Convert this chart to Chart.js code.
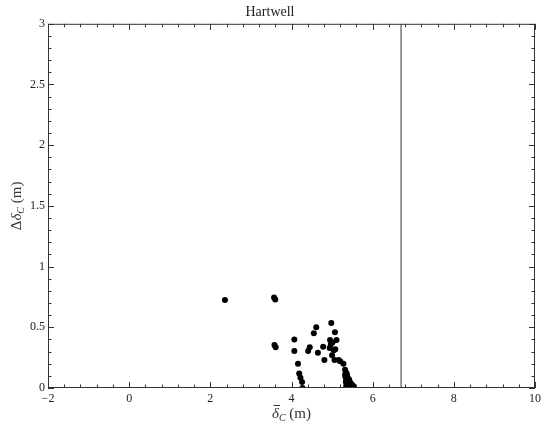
<!DOCTYPE html>
<html>
<head>
<meta charset="utf-8">
<script src="https://cdn.jsdelivr.net/npm/chart.js@4"></script>
<style>
html,body{margin:0;padding:0;background:#fff;}
#wrap{width:545px;height:425px;}
</style>
</head>
<body>
<div id="wrap"><canvas id="c" width="545" height="425"></canvas></div>
<script>
// ---- data ----
const chartTitle = "Hartwell";
const xTickValues = [-2, 0, 2, 4, 6, 8, 10];
const yTickValues = [0, 0.5, 1, 1.5, 2, 2.5, 3];
const deltaMean = [
  2.36, 3.57, 3.60, 3.58, 3.61,
  4.07, 4.07, 4.16, 4.19, 4.22, 4.26, 4.27,
  4.45, 4.41, 4.55, 4.61, 4.65, 4.78, 4.81,
  4.98, 5.07, 4.95, 5.01, 5.11, 4.94, 5.08, 5.00, 5.04, 5.06, 4.97,
  5.16, 5.20, 5.28, 5.32, 5.34, 5.32, 5.36,
  5.33, 5.37, 5.35, 5.39, 5.34, 5.38, 5.42, 5.36, 5.40, 5.44, 5.48,
  5.35, 5.39, 5.43, 5.47, 5.51, 5.37, 5.41, 5.45, 5.49, 5.53, 5.40, 5.46, 5.52
];
const deltaRange = [
  0.725, 0.745, 0.73, 0.355, 0.335,
  0.40, 0.305, 0.20, 0.12, 0.085, 0.05, 0.0,
  0.335, 0.305, 0.45, 0.50, 0.29, 0.34, 0.23,
  0.535, 0.46, 0.395, 0.375, 0.395, 0.33, 0.32, 0.27, 0.31, 0.23, 0.36,
  0.23, 0.22, 0.20, 0.15, 0.13, 0.11, 0.12,
  0.09, 0.10, 0.07, 0.08, 0.05, 0.06, 0.07, 0.03, 0.04, 0.05, 0.03,
  0.015, 0.02, 0.025, 0.015, 0.02, 0.0, 0.005, 0.0, 0.005, 0.01, 0.0, 0.01, 0.0
];
const thresholdX = 6.7;
const thresholdY = [0, 3];

// ---- build ----
const points = deltaMean.map((x, i) => ({x: x, y: deltaRange[i]}));
const vline = thresholdY.map(y => ({x: thresholdX, y: y}));

const FONT = "'Liberation Serif', 'DejaVu Serif', serif";
const AXIS = '#333';

const framePlugin = {
  id: 'frame',
  afterDraw(chart) {
    const ctx = chart.ctx, a = chart.chartArea;
    const xs = chart.scales.x, ys = chart.scales.y;
    ctx.save();
    ctx.strokeStyle = AXIS;
    ctx.lineWidth = 1;
    ctx.strokeRect(a.left + 0.5, a.top + 0.5, a.right - a.left - 1, a.bottom - a.top - 1);
    ctx.beginPath();
    for (let k = 0; k <= 30; k++) {
      const v = -2 + k * 0.4;
      const px = Math.round(xs.getPixelForValue(v)) + 0.5;
      const len = (k % 5 === 0) ? 6 : 3.5;
      ctx.moveTo(px, a.bottom); ctx.lineTo(px, a.bottom - len);
      ctx.moveTo(px, a.top); ctx.lineTo(px, a.top + len);
    }
    for (let k = 0; k <= 30; k++) {
      const v = k * 0.1;
      const py = Math.round(ys.getPixelForValue(v)) + 0.5;
      const len = (k % 5 === 0) ? 6 : 3.5;
      ctx.moveTo(a.left, py); ctx.lineTo(a.left + len, py);
      ctx.moveTo(a.right, py); ctx.lineTo(a.right - len, py);
    }
    ctx.stroke();

    ctx.fillStyle = AXIS;
    ctx.textBaseline = 'alphabetic';
    const cx = (a.left + a.right) / 2;
    const by = 418;
    const f1 = "italic 15px " + FONT, f2 = "italic 10px " + FONT, f3 = "15px " + FONT;
    ctx.font = f1; const w1 = ctx.measureText('δ').width;
    ctx.font = f2; const w2 = ctx.measureText('C').width;
    ctx.font = f3; const w3 = ctx.measureText(' (m)').width;
    let sx = cx - (w1 + w2 + w3) / 2;
    ctx.textAlign = 'left';
    ctx.font = f1; ctx.fillText('δ', sx, by);
    ctx.fillRect(sx + 1.5, by - 13, w1 - 0.5, 1);
    ctx.font = f2; ctx.fillText('C', sx + w1, by + 3);
    ctx.font = f3; ctx.fillText(' (m)', sx + w1 + w2, by);

    ctx.save();
    ctx.translate(21, (a.top + a.bottom) / 2);
    ctx.rotate(-Math.PI / 2);
    const g0 = "15px " + FONT;
    ctx.font = g0; const v0 = ctx.measureText('Δ').width;
    ctx.font = f1; const v1 = ctx.measureText('δ').width;
    ctx.font = f2; const v2 = ctx.measureText('C').width;
    ctx.font = f3; const v3 = ctx.measureText(' (m)').width;
    let tx = -(v0 + v1 + v2 + v3) / 2;
    ctx.font = g0; ctx.fillText('Δ', tx, 0);
    ctx.font = f1; ctx.fillText('δ', tx + v0, 0);
    ctx.font = f2; ctx.fillText('C', tx + v0 + v1, 3);
    ctx.font = f3; ctx.fillText(' (m)', tx + v0 + v1 + v2, 0);
    ctx.restore();
    ctx.restore();
  }
};

new Chart(document.getElementById('c'), {
  type: 'scatter',
  data: {
    datasets: [
      {
        label: 'points',
        data: points,
        backgroundColor: '#000',
        borderColor: '#000',
        borderWidth: 0,
        pointRadius: 3,
        pointHoverRadius: 3
      },
      {
        type: 'line',
        label: 'threshold',
        data: vline,
        borderColor: '#333',
        borderWidth: 1,
        pointRadius: 0,
        fill: false
      }
    ]
  },
  plugins: [framePlugin],
  options: {
    responsive: false,
    animation: false,
    layout: { padding: { left: 0, right: 5, top: 0, bottom: 0 } },
    plugins: {
      legend: { display: false },
      tooltip: { enabled: false },
      title: {
        display: true,
        text: chartTitle,
        color: '#222',
        font: { family: FONT, size: 14, weight: 'normal' },
        padding: { top: 4, bottom: 3 }
      }
    },
    scales: {
      x: {
        type: 'linear',
        min: -2, max: 10,
        afterBuildTicks(s) { s.ticks = xTickValues.map(v => ({value: v})); },
        afterFit(s) { s.height = 37; },
        grid: { display: false, drawTicks: false },
        border: { display: false },
        ticks: {
          padding: 4,
          color: '#222',
          maxRotation: 0,
          font: { family: FONT, size: 12 },
          callback: v => String(v).replace('-', '\u2212')
        }
      },
      y: {
        type: 'linear',
        min: 0, max: 3,
        afterBuildTicks(s) { s.ticks = yTickValues.map(v => ({value: v})); },
        afterFit(s) { s.width = 48; },
        grid: { display: false, drawTicks: false },
        border: { display: false },
        ticks: {
          padding: 3,
          color: '#222',
          font: { family: FONT, size: 12 },
          callback: v => String(v)
        }
      }
    }
  }
});
</script>
</body>
</html>
